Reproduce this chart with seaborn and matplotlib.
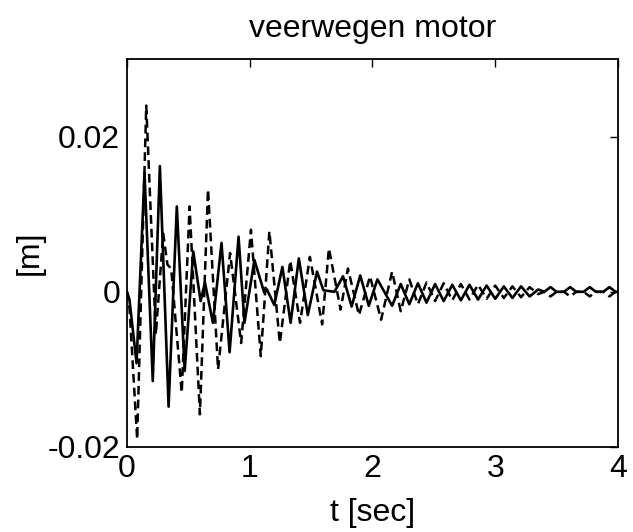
import matplotlib
matplotlib.use("Agg")
import matplotlib.pyplot as plt
import seaborn as sns
import pandas as pd

# ---- data (peaks / troughs of each trace) ----
solid_t = [0.00, 0.02, 0.078, 0.143, 0.21, 0.268, 0.339, 0.406, 0.47, 0.54,
           0.60, 0.635, 0.70, 0.77, 0.836, 0.909, 0.957, 1.038, 1.118, 1.14,
           1.20, 1.266, 1.333, 1.40, 1.473, 1.548, 1.60, 1.69, 1.76, 1.83,
           1.90, 1.97, 2.04, 2.16, 2.23, 2.30, 2.37, 2.44, 2.51, 2.58,
           2.65, 2.72, 2.79, 2.86, 2.93, 3.00, 3.07, 3.14, 3.21, 3.28,
           3.35, 3.40, 3.45, 3.50, 3.56, 3.61, 3.66, 3.72, 3.77, 3.82,
           3.88, 3.93, 3.98, 4.00]
solid_v = [0.0000, -0.0010, -0.0092, 0.0153, -0.0115, 0.0162, -0.0148, 0.0110, -0.0102, 0.0052,
           -0.0012, 0.0012, -0.0040, 0.0063, -0.0078, 0.0071, -0.0040, 0.0041, -0.0001, 0.0003,
           -0.0017, 0.0032, -0.0040, 0.0043, -0.0030, 0.0026, 0.0002, 0.0000, 0.0020, -0.0019,
           0.0021, -0.0018, 0.0016, -0.0018, 0.0010, -0.0016, 0.0011, -0.0014, 0.0010, -0.0012,
           0.0009, -0.0011, 0.0009, -0.0010, 0.0008, -0.0009, 0.0007, -0.0008, 0.0007, -0.0006,
           0.0003, 0.0000, 0.0006, 0.0000, 0.0000, 0.0006, 0.0000, 0.0000, 0.0006, 0.0000,
           0.0000, 0.0006, 0.0000, 0.0000]

dash_t = [0.00, 0.02, 0.083, 0.157, 0.235, 0.295, 0.33, 0.36, 0.446, 0.51,
          0.594, 0.66, 0.742, 0.84, 0.93, 1.01, 1.09, 1.16, 1.245, 1.33,
          1.41, 1.49, 1.59, 1.645, 1.74, 1.80, 1.89, 1.98, 2.07, 2.16,
          2.23, 2.30, 2.37, 2.44, 2.51, 2.58, 2.65, 2.72, 2.79, 2.86,
          2.93, 3.00, 3.07, 3.14, 3.21, 3.28, 3.35, 3.40, 3.45, 3.50,
          3.56, 3.61, 3.66, 3.72, 3.77, 3.82, 3.88, 3.93, 3.98, 4.00]
dash_v = [0.0000, -0.0020, -0.0190, 0.0240, -0.0055, 0.0075, 0.0035, 0.0030, -0.0130, 0.0110,
          -0.0158, 0.0132, -0.0100, 0.0050, -0.0066, 0.0080, -0.0083, 0.0078, -0.0066, 0.0040,
          -0.0040, 0.0045, -0.0042, 0.0056, -0.0023, 0.0030, -0.0030, 0.0020, -0.0036, 0.0026,
          -0.0025, 0.0016, -0.0016, 0.0012, -0.0012, 0.0011, -0.0011, 0.0010, -0.0010, 0.0009,
          -0.0009, 0.0008, -0.0008, 0.0007, -0.0007, 0.0006, -0.0003, 0.0000, -0.0006, 0.0000,
          0.0000, -0.0006, 0.0000, 0.0000, -0.0006, 0.0000, 0.0000, -0.0006, 0.0000, 0.0000]

x_ticks = [0, 1, 2, 3, 4]
y_ticks = [-0.02, 0, 0.02]
y_tick_labels = ["-0.02", "0", "0.02"]

title = "veerwegen motor"
x_label = "t [sec]"
y_label = "[m]"

# ---- plotting ----
sns.set_theme(style="white")
plt.rcParams["font.family"] = ["Liberation Sans", "DejaVu Sans"]

fig = plt.figure(figsize=(6.33, 5.32), dpi=100)
ax = fig.add_axes([0.2006, 0.1598, 0.7757, 0.7293])

df_s = pd.DataFrame({"t": solid_t, "v": solid_v})
df_d = pd.DataFrame({"t": dash_t, "v": dash_v})

sns.lineplot(data=df_s, x="t", y="v", ax=ax, color="black", lw=1.9,
             sort=False, estimator=None)
ax.lines[-1].set_solid_joinstyle("round")
sns.lineplot(data=df_d, x="t", y="v", ax=ax, color="black", lw=1.8,
             sort=False, estimator=None)
ax.lines[-1].set_dashes([3.5, 2.0])

ax.set_xlim(0, 4)
ax.set_ylim(-0.02, 0.03)
ax.set_xticks(x_ticks)
ax.set_xticklabels([str(v) for v in x_ticks])
ax.set_yticks(y_ticks)
ax.set_yticklabels(y_tick_labels)

ax.tick_params(direction="in", length=6, width=1.0, top=True, right=True,
               labelsize=23, colors="black")
ax.tick_params(axis="x", pad=5)
ax.tick_params(axis="y", pad=5)

for sp in ax.spines.values():
    sp.set_color("black")
    sp.set_linewidth(1.3)

ax.set_title(title, fontsize=23, pad=16, color="black")
ax.set_xlabel(x_label, fontsize=23, labelpad=10, color="black")
ax.set_ylabel(y_label, fontsize=23, labelpad=2, color="black")

fig.savefig("out.png", dpi=100)
